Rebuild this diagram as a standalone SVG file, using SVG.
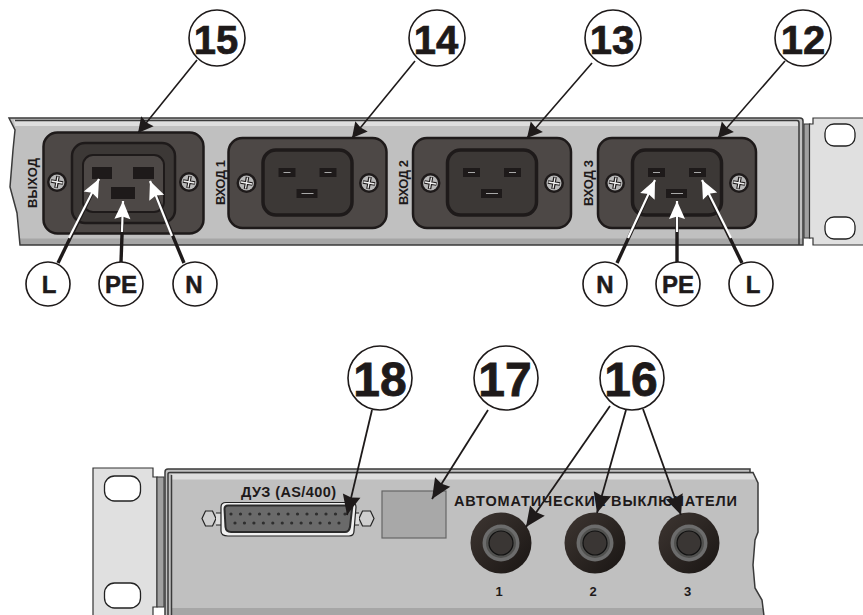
<svg xmlns="http://www.w3.org/2000/svg" xmlns:xlink="http://www.w3.org/1999/xlink" width="863" height="615" viewBox="0 0 863 615">
<style>
text{font-family:"Liberation Sans",Arial,sans-serif;font-weight:bold;fill:#1e1a1a}
.call{fill:#fff;stroke:#1e1a1a;stroke-width:1.6}
.n1{font-size:40px;text-anchor:middle;stroke:#1e1a1a;stroke-width:.7}
.n2{font-size:48px;text-anchor:middle;stroke:#1e1a1a;stroke-width:.8}
.n3{font-size:24px;text-anchor:middle;stroke:#1e1a1a;stroke-width:.5}
.lab{font-size:13px}
.body{fill:#c0c0c0}
.edge{fill:none;stroke:#3a3a3a;stroke-width:1.5}
.ear{fill:#e0e0e0;stroke:#333;stroke-width:1.2}
.hole{fill:#fff;stroke:#222;stroke-width:1.3}
.plate{fill:#4d4846;stroke:#1e1a1a;stroke-width:2.5}
.well{fill:#3c3836;stroke:#1e1a1a;stroke-width:3.5}
.slot{fill:#1e1a1a}
.pinl{stroke:#a8a8a8;stroke-width:1}
.bk{stroke:#1e1a1a;stroke-width:1.6;fill:none;marker-end:url(#bh)}
.bk2{stroke:#1e1a1a;stroke-width:1.8;fill:none;marker-end:url(#bh2)}
.wd{stroke:#1e1a1a;stroke-width:3.4;fill:none}
.wl{stroke:#fff;stroke-width:2.2;fill:none;marker-end:url(#wh)}
</style>
<defs>
<marker id="bh" markerUnits="userSpaceOnUse" markerWidth="20" markerHeight="20" refX="15" refY="8" orient="auto" overflow="visible"><path d="M15,8 L0,0 L1.500,8 L0,16 Z" fill="#1e1a1a"/></marker>
<marker id="bh2" markerUnits="userSpaceOnUse" markerWidth="24" markerHeight="24" refX="20" refY="9" orient="auto" overflow="visible"><path d="M20,9 L0,0 L2,9 L0,18 Z" fill="#1e1a1a"/></marker>
<marker id="wh" markerUnits="userSpaceOnUse" markerWidth="20" markerHeight="20" refX="18" refY="8" orient="auto" overflow="visible"><path d="M18,8 L0,0 L2.500,8 L0,16 Z" fill="#fff"/></marker>
<linearGradient id="kn" x1="0" y1="0" x2="1" y2="1"><stop offset="0" stop-color="#3e3632"/><stop offset="1" stop-color="#191513"/></linearGradient>
<g id="screw"><circle r="10" fill="#1e1a1a"/><circle r="7.500" fill="#b8b8b8"/><path d="M-6,-1 L6,1 M-1,6 L1,-6" stroke="#1e1a1a" stroke-width="3.600"/><path d="M-5.500,-1 L5.500,1 M-1,5.500 L1,-5.500" stroke="#eee" stroke-width="1.300"/></g>
<g id="knob"><circle r="30.500" fill="url(#kn)"/><circle r="18.500" fill="#6c6c6c"/><circle r="15" fill="#50504e"/><circle r="12" fill="#3a3634" stroke="#111" stroke-width="1.200"/></g>
<g id="sock"><rect x="-79" y="-45" width="158" height="90" rx="14" class="plate"/><rect x="-44.500" y="-33" width="89" height="65" rx="13" class="well"/></g>
<g id="pins"><rect x="-29" y="-15" width="17" height="9" class="slot"/><rect x="12" y="-15" width="17" height="9" class="slot"/><rect x="-11" y="6" width="21" height="9" class="slot"/><path class="pinl" d="M-24,-10.500H-17M17,-10.500H24M-6,10.500H6"/></g>
</defs>

<g id="panel-top">
<path class="body" d="M9,118 L800,118 Q803,118 803,121 L803,245 L20,245 L17,213 L10,187 L13,150 L15,130 Z"/>
<path d="M14,120 H798 V126 H15 Z" fill="#dedede"/>
<path d="M19,238.500 H803 V245 H20 Z" fill="#a6a6a6"/>
<path class="edge" d="M9,118 L800,118 Q803,118 803,121 L803,245 L20,245 L17,213 L10,187 L13,150 L15,130 Z"/>
<path class="edge" d="M15,120.500 H797 Q799,120.500 799,123 V245" stroke-width="1"/>
<rect x="804" y="124" width="6" height="114" fill="#a0a0a0" stroke="#333"/>
<path class="ear" d="M813,118 H864 V245 H813 V238 H809.500 V124 H813 Z"/>
<rect class="hole" x="825" y="124" width="30" height="22" rx="9"/>
<rect class="hole" x="825" y="217" width="30" height="22" rx="9"/>
<text class="lab" transform="translate(37,208) rotate(-90)" textLength="50">ВЫХОД</text>
<text class="lab" transform="translate(225,205) rotate(-90)" textLength="45">ВХОД 1</text>
<text class="lab" transform="translate(408,205) rotate(-90)" textLength="45">ВХОД 2</text>
<text class="lab" transform="translate(593,206) rotate(-90)" textLength="46">ВХОД 3</text>
</g>

<g id="socket-15">
<rect x="43.500" y="132.500" width="160" height="101" rx="14" class="plate"/>
<rect x="72" y="143" width="103" height="80" rx="13" fill="#3c3836" stroke="#1e1a1a" stroke-width="2.500"/>
<rect x="83" y="155" width="81" height="57" rx="10" fill="#4d4846" stroke="#1e1a1a" stroke-width="2"/>
<rect x="92" y="167" width="20" height="12" class="slot"/>
<rect x="133" y="167" width="21" height="12" class="slot"/>
<rect x="111" y="187" width="24" height="12" class="slot"/>
<use xlink:href="#screw" href="#screw" x="57" y="182"/>
<use xlink:href="#screw" href="#screw" x="189" y="182"/>
</g>
<g id="socket-14">
<use xlink:href="#sock" href="#sock" x="307.500" y="183"/>
<use xlink:href="#pins" href="#pins" x="307.500" y="183"/>
<use xlink:href="#screw" href="#screw" x="246.500" y="183"/>
<use xlink:href="#screw" href="#screw" x="369" y="183"/>
</g>
<g id="socket-13">
<use xlink:href="#sock" href="#sock" x="492" y="183"/>
<use xlink:href="#pins" href="#pins" x="492" y="183"/>
<use xlink:href="#screw" href="#screw" x="430.500" y="183"/>
<use xlink:href="#screw" href="#screw" x="554" y="183"/>
</g>
<g id="socket-12">
<use xlink:href="#sock" href="#sock" x="677" y="183"/>
<use xlink:href="#pins" href="#pins" x="677" y="183"/>
<use xlink:href="#screw" href="#screw" x="615" y="183"/>
<use xlink:href="#screw" href="#screw" x="739" y="183"/>
</g>

<g id="panel-bottom">
<path class="ear" d="M93,468 H153 V477 H157 V607 H153 V616 H93 Z"/>
<rect class="hole" x="104.500" y="476" width="36" height="25" rx="10"/>
<rect class="hole" x="104.500" y="583" width="36" height="25" rx="10"/>
<rect x="157" y="477" width="7" height="130" fill="#a0a0a0" stroke="#333"/>
<path class="body" d="M165,616 V472 Q165,469 168,469 H750 V472 H753 L758,483 V532 L755,540 L753,565 L755,588 L762,600 L764,616 Z"/>
<path d="M172,474 H754 L757,479.500 H172 Z" fill="#dedede"/>
<path d="M172,608 H763 L764,616 H172 Z" fill="#a6a6a6"/>
<path class="edge" d="M165,616 V472 Q165,469 168,469 H750 V472 M168,616 V474 Q168,472.500 170,472.500 H753 L758,483 V532 L755,540 L753,565 L755,588 L762,600 L764,616"/>
<path class="edge" d="M171.500,616 V475" stroke-width="1"/>
</g>

<g id="connector-18">
<path d="M202,518.500 L205.500,511 H212.500 L216,518.500 L212.500,526 H205.500 Z M359,518.500 L362.500,511 H370.500 L374,518.500 L370.500,526 H362.500 Z" fill="#cfcfcf" stroke="#222" stroke-width="1.200"/>
<path d="M216,513 H222 V525 H216 M359,513 H354 V525 H359" fill="#dcdcdc" stroke="#222" stroke-width="1.200"/>
<path d="M226,502.500 H351 Q356,502.500 356,507 L354,531 Q354,536 349,536 H228 Q221,536 221,531 L221,507 Q221,502.500 226,502.500 Z" fill="#f0f0f0" stroke="#222" stroke-width="1.200"/>
<path d="M228,505.500 H350 Q353,505.500 352,509 L350,527 Q349,532 345,532 H231 Q226,532 225.500,527 L224.500,509 Q224.500,505.500 228,505.500 Z" fill="#6a6a6a" stroke="#2a2a2a" stroke-width="2"/>
<path d="M231,514 H346" stroke="#2e2e2e" stroke-width="3.200" stroke-linecap="round" stroke-dasharray="0 9.500" fill="none"/>
<path d="M235,523 H340" stroke="#2e2e2e" stroke-width="3.200" stroke-linecap="round" stroke-dasharray="0 9.450" fill="none"/>
<text x="241" y="497" font-size="14.500px" textLength="95">ДУЗ (AS/400)</text>
</g>
<g id="box-17"><rect x="382" y="491" width="64" height="47" fill="#a8a8a8" stroke="#666" stroke-width="1.200"/></g>
<g id="breakers-16">
<text x="454" y="506" font-size="14.500px" textLength="283">АВТОМАТИЧЕСКИЕ ВЫКЛЮЧАТЕЛИ</text>
<use xlink:href="#knob" href="#knob" x="501" y="543"/>
<use xlink:href="#knob" href="#knob" x="595" y="543"/>
<use xlink:href="#knob" href="#knob" x="689" y="543"/>
<text x="499" y="596" font-size="13px" text-anchor="middle">1</text>
<text x="593" y="596" font-size="13px" text-anchor="middle">2</text>
<text x="687.500" y="596" font-size="13px" text-anchor="middle">3</text>
</g>

<g id="connectors">
<path class="bk" d="M197,60 L138,133"/>
<path class="bk" d="M415,61 L352,138"/>
<path class="bk" d="M592,63 L527,138"/>
<path class="bk" d="M785,61 L718,138"/>
<path class="bk2" d="M372,410 L347,515"/>
<path class="bk2" d="M488,410 L432,499"/>
<path class="bk2" d="M610,406 L526,527"/>
<path class="bk2" d="M626,410 L597,513"/>
<path class="bk2" d="M643,409 L681,515"/>
<path class="wd" d="M58,263 L96,185"/>
<path class="wd" d="M121,262 L123,208"/>
<path class="wd" d="M184,263 L153,188"/>
<path class="wd" d="M617,263 L652,187"/>
<path class="wd" d="M677,263 V208"/>
<path class="wd" d="M742,263 L705,187"/>
<path class="wl" d="M69,238 L99,179"/>
<path class="wl" d="M122,232 L123,201"/>
<path class="wl" d="M172,236 L150,181"/>
<path class="wl" d="M628,238 L655,180"/>
<path class="wl" d="M677,232 V201"/>
<path class="wl" d="M731,238 L702,180"/>
</g>

<g id="call-15"><circle class="call" cx="217" cy="38" r="28"/><text class="n1" x="216" y="54">15</text></g>
<g id="call-14"><circle class="call" cx="437" cy="38" r="28"/><text class="n1" x="436" y="54">14</text></g>
<g id="call-13"><circle class="call" cx="613" cy="38" r="28"/><text class="n1" x="612" y="54">13</text></g>
<g id="call-12"><circle class="call" cx="803" cy="38" r="28"/><text class="n1" x="803" y="54">12</text></g>
<g id="call-18"><circle class="call" cx="380" cy="378" r="32"/><text class="n2" x="380" y="396">18</text></g>
<g id="call-17"><circle class="call" cx="506" cy="378" r="32"/><text class="n2" x="505" y="396">17</text></g>
<g id="call-16"><circle class="call" cx="632" cy="378" r="32"/><text class="n2" x="631" y="396">16</text></g>
<g id="call-L1"><circle class="call" cx="48" cy="284" r="22"/><text class="n3" x="49" y="292.500">L</text></g>
<g id="call-PE1"><circle class="call" cx="121" cy="284" r="22"/><text class="n3" x="121" y="292.500">PE</text></g>
<g id="call-N1"><circle class="call" cx="195" cy="284" r="22"/><text class="n3" x="194" y="292.500">N</text></g>
<g id="call-N2"><circle class="call" cx="605" cy="284" r="22"/><text class="n3" x="605" y="292.500">N</text></g>
<g id="call-PE2"><circle class="call" cx="678" cy="284" r="22"/><text class="n3" x="678" y="292.500">PE</text></g>
<g id="call-L2"><circle class="call" cx="751" cy="284" r="22"/><text class="n3" x="753" y="292.500">L</text></g>
</svg>
